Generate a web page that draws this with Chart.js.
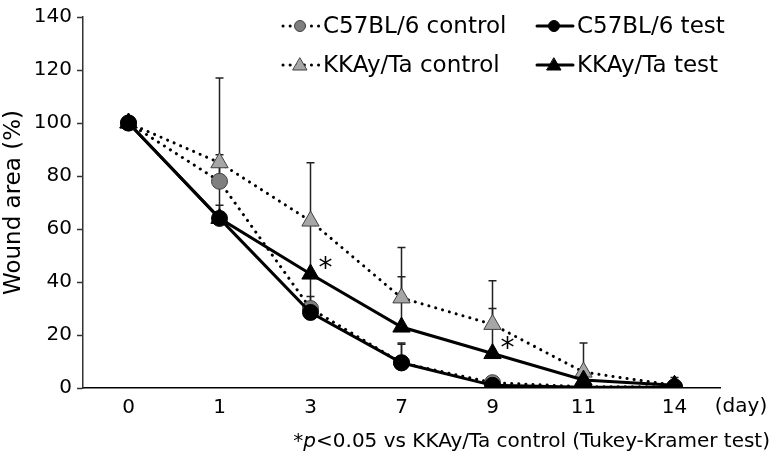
<!DOCTYPE html>
<html>
<head>
<meta charset="utf-8">
<script src="https://cdn.jsdelivr.net/npm/chart.js@4.4.1/dist/chart.umd.min.js"></script>
<style>
html,body{margin:0;padding:0;background:#fff;}
#wrap{width:772px;height:457px;position:relative;}
</style>
</head>
<body>
<div id="wrap"><canvas id="c" width="772" height="457"></canvas></div>
<script>
const days = ['0','1','3','7','9','11','14'];
const yTicks = [0,20,40,60,80,100,120,140];

const c57Control = [100, 78, 30, 9.5, 2, 0.5, 0.5];
const c57Test    = [100, 64, 28.5, 9.5, 1, 0.3, 0.3];
const kkControl  = [100, 85, 63, 34, 24, 6, 1];
const kkTest     = [100, 64, 43, 23, 13, 3, 1];

const c57ControlSD = [0, 10, 12, 7, 1.5, 0.5, 0.5];
const c57TestSD    = [0, 5, 6, 7.5, 1, 0.5, 0.5];
const kkControlSD  = [0, 32, 22, 19, 16.5, 11, 3];
const kkTestSD     = [0, 20, 19, 19, 17, 2, 2];

// significance marks: index of day, series
const sigMarks = [{series: 'kkTest', index: 2}, {series: 'kkTest', index: 4}];

const labels = ['C57BL/6 control', 'C57BL/6 test', 'KKAy/Ta control', 'KKAy/Ta test'];

const FONT = '"DejaVu Sans", Verdana, sans-serif';

const seriesMap = {c57Control, c57Test, kkControl, kkTest};

const errorBarPlugin = {
  id: 'errbars',
  beforeDatasetsDraw(chart) {
    const ctx = chart.ctx;
    const ys = chart.scales.y, xs = chart.scales.x;
    const sets = [[c57Control, c57ControlSD], [c57Test, c57TestSD], [kkControl, kkControlSD], [kkTest, kkTestSD]];
    ctx.save();
    ctx.strokeStyle = '#222';
    ctx.lineWidth = 1.5;
    sets.forEach(([vals, sds]) => {
      vals.forEach((v, i) => {
        if (!sds[i]) return;
        const x = xs.getPixelForValue(i);
        const y0 = ys.getPixelForValue(v);
        const y1 = ys.getPixelForValue(v + sds[i]);
        ctx.beginPath();
        ctx.moveTo(x, y0); ctx.lineTo(x, y1);
        ctx.moveTo(x - 4, y1); ctx.lineTo(x + 4, y1);
        ctx.stroke();
      });
    });
    ctx.restore();
  },
  afterDraw(chart) {
    const ctx = chart.ctx;
    const ys = chart.scales.y, xs = chart.scales.x;
    ctx.save();
    // asterisks
    ctx.fillStyle = '#000';
    ctx.font = '28px ' + FONT;
    ctx.textAlign = 'center';
    ctx.textBaseline = 'middle';
    sigMarks.forEach(m => {
      const v = seriesMap[m.series][m.index];
      const x = xs.getPixelForValue(m.index) + 15;
      const y = ys.getPixelForValue(v) - 4;
      ctx.fillText('*', x, y);
    });
    // legend
    const items = [
      {ds: 0, col: 0, row: 0}, {ds: 1, col: 1, row: 0},
      {ds: 2, col: 0, row: 1}, {ds: 3, col: 1, row: 1}
    ];
    const colX = [283, 537];
    const rowY = [26, 65];
    ctx.font = '23px ' + FONT;
    ctx.textAlign = 'left';
    items.forEach(it => {
      const d = chart.data.datasets[it.ds];
      const x0 = colX[it.col], y = rowY[it.row];
      ctx.save();
      ctx.strokeStyle = '#000';
      ctx.lineWidth = 3;
      ctx.lineCap = 'round';
      if (d.borderDash && d.borderDash.length) ctx.setLineDash([0.1, 7]);
      ctx.beginPath(); ctx.moveTo(x0, y); ctx.lineTo(x0 + 36, y); ctx.stroke();
      ctx.setLineDash([]);
      ctx.fillStyle = d.pointBackgroundColor;
      ctx.strokeStyle = d.pointBorderColor;
      ctx.lineWidth = 1;
      const mx = x0 + 17;
      ctx.beginPath();
      if (d.pointStyle === 'circle') {
        ctx.arc(mx, y, 5.5, 0, Math.PI * 2);
      } else {
        ctx.moveTo(mx, y - 7); ctx.lineTo(mx + 7, y + 5); ctx.lineTo(mx - 7, y + 5); ctx.closePath();
      }
      ctx.fill(); ctx.stroke();
      ctx.restore();
      ctx.fillStyle = '#000';
      ctx.fillText(d.label, x0 + 40, y + 1);
    });
    // (day)
    ctx.font = '20px ' + FONT;
    ctx.textAlign = 'center';
    ctx.fillText('(day)', 741, 407);
    // footnote
    const fy = 442;
    const parts = [
      {t: '*', f: '20px ' + FONT},
      {t: 'p', f: 'italic 20px ' + FONT},
      {t: '<0.05 vs KKAy/Ta control (Tukey-Kramer test)', f: '20px ' + FONT}
    ];
    let total = 0;
    parts.forEach(p => { ctx.font = p.f; p.w = ctx.measureText(p.t).width; total += p.w; });
    let x = 770 - total;
    ctx.textAlign = 'left';
    parts.forEach(p => { ctx.font = p.f; ctx.fillText(p.t, x, fy); x += p.w; });
    ctx.restore();
  }
};

const dotted = [0.1, 7];
new Chart(document.getElementById('c'), {
  type: 'line',
  data: {
    labels: days,
    datasets: [
      {label: labels[0], data: c57Control, borderColor: '#000', borderWidth: 3, borderDash: dotted, borderCapStyle: 'round',
       pointStyle: 'circle', pointRadius: 8, pointBackgroundColor: '#7f7f7f', pointBorderColor: '#404040', pointBorderWidth: 1, order: 4},
      {label: labels[1], data: c57Test, borderColor: '#000', borderWidth: 3, borderDash: [],
       pointStyle: 'circle', pointRadius: 8, pointBackgroundColor: '#000', pointBorderColor: '#000', pointBorderWidth: 1, order: 2},
      {label: labels[2], data: kkControl, borderColor: '#000', borderWidth: 3, borderDash: dotted, borderCapStyle: 'round',
       pointStyle: 'triangle', pointRadius: 10, pointBackgroundColor: '#a6a6a6', pointBorderColor: '#404040', pointBorderWidth: 1, order: 3},
      {label: labels[3], data: kkTest, borderColor: '#000', borderWidth: 3, borderDash: [],
       pointStyle: 'triangle', pointRadius: 10, pointBackgroundColor: '#000', pointBorderColor: '#000', pointBorderWidth: 1, order: 1}
    ]
  },
  options: {
    responsive: false,
    animation: false,
    events: [],
    layout: {padding: {top: 10, right: 52, left: 0, bottom: 0}},
    plugins: {legend: {display: false}, tooltip: {enabled: false}},
    elements: {line: {tension: 0}},
    scales: {
      x: {
        type: 'category',
        offset: true,
        grid: {display: false, drawTicks: false},
        border: {display: true, color: '#000', width: 1.5},
        ticks: {color: '#000', font: {family: FONT, size: 20}, padding: 8, maxRotation: 0},
        afterFit(s) { s.height = 69; }
      },
      y: {
        min: 0, max: 140,
        afterBuildTicks(s) { s.ticks = yTicks.map(v => ({value: v})); },
        grid: {drawOnChartArea: false, drawTicks: true, tickLength: 6, color: '#333', tickWidth: 1.5},
        border: {display: true, color: '#333', width: 1.5},
        ticks: {color: '#000', font: {family: FONT, size: 20}, padding: 5},
        title: {display: true, text: 'Wound area (%)', color: '#000', font: {family: FONT, size: 23}, padding: {top: 0, bottom: 0}},
        afterFit(s) { s.width = 83; }
      }
    }
  },
  plugins: [errorBarPlugin]
});
</script>
</body>
</html>
